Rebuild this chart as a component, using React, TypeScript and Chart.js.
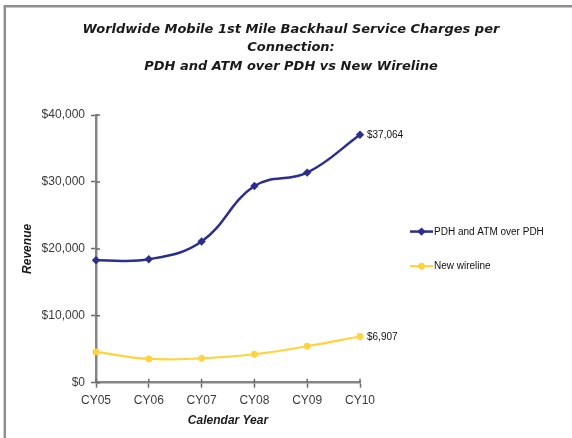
import React, { useEffect, useRef } from "react";
import { Chart, registerables } from "chart.js";

Chart.register(...registerables);

// Calendar years on the x axis
const years = ["CY05", "CY06", "CY07", "CY08", "CY09", "CY10"];

// Backhaul service charge per connection (USD)
const pdhAtmValues = [18300, 18450, 21100, 29400, 31400, 37064];
const newWirelineValues = [4600, 3550, 3650, 4250, 5450, 6907];

const seriesNames = ["PDH and ATM over PDH", "New wireline"];
const seriesColors = ["#2B2E8E", "#FFD340"];
const seriesMarkers = ["rectRot", "circle"];

const titleLines = [
  "Worldwide Mobile 1st Mile Backhaul Service Charges per",
  "Connection:",
  "PDH and ATM over PDH vs New Wireline",
];

const yTickValues = [0, 10000, 20000, 30000, 40000];

const money = (v: number) => "$" + Math.round(v).toLocaleString("en-US");

const AXIS_GRAY = "#858585";
const TICK_GRAY = "#6a6a6a";
const SANS = "'Liberation Sans', Arial, sans-serif";

// Gray frame running along the top and left edges of the picture
const framePlugin = {
  id: "frame",
  beforeDraw(chart: any) {
    const ctx = chart.ctx;
    ctx.save();
    ctx.strokeStyle = "#8e8e8e";
    ctx.lineWidth = 2.5;
    ctx.beginPath();
    ctx.moveTo(4.8, chart.height + 5);
    ctx.lineTo(4.8, 6.2);
    ctx.lineTo(chart.width + 5, 6.2);
    ctx.stroke();
    ctx.restore();
  },
};

// Tick marks that cross the axis lines (inner half)
const crossTicksPlugin = {
  id: "crossTicks",
  afterDatasetsDraw(chart: any) {
    const ctx = chart.ctx;
    const xs = chart.scales.x;
    const ys = chart.scales.y;
    const inner = 4;
    ctx.save();
    ctx.strokeStyle = TICK_GRAY;
    ctx.lineWidth = 1.5;
    ctx.beginPath();
    ys.ticks.forEach((_t: any, i: number) => {
      const py = ys.getPixelForTick(i);
      ctx.moveTo(ys.right, py);
      ctx.lineTo(ys.right + inner, py);
    });
    xs.ticks.forEach((_t: any, i: number) => {
      const px = xs.getPixelForTick(i);
      ctx.moveTo(px, xs.top);
      ctx.lineTo(px, xs.top - inner);
    });
    ctx.stroke();
    ctx.restore();
  },
};

// Value label next to the last point of each series
const endLabelPlugin = {
  id: "endLabels",
  afterDatasetsDraw(chart: any) {
    const ctx = chart.ctx;
    ctx.save();
    ctx.font = `10px ${SANS}`;
    ctx.fillStyle = "#111";
    ctx.textAlign = "left";
    ctx.textBaseline = "middle";
    chart.data.datasets.forEach((ds: any, i: number) => {
      const meta = chart.getDatasetMeta(i);
      const last = meta.data[meta.data.length - 1];
      const value = ds.data[ds.data.length - 1];
      ctx.fillText(money(value), last.x + 7, last.y + 0.5);
    });
    ctx.restore();
  },
};

// Legend to the right of the plot: line with marker, then series name
const sideLegendPlugin = {
  id: "sideLegend",
  afterDraw(chart: any) {
    const ctx = chart.ctx;
    const area = chart.chartArea;
    const x0 = area.right + 50;
    const lineLen = 23;
    const gap = 34.6;
    const midY = (area.top + area.bottom) / 2;
    const datasets = chart.data.datasets;
    const startY = midY - (gap * (datasets.length - 1)) / 2;
    ctx.save();
    datasets.forEach((ds: any, i: number) => {
      const y = startY + i * gap;
      ctx.strokeStyle = ds.borderColor;
      ctx.lineWidth = ds.borderWidth;
      ctx.beginPath();
      ctx.moveTo(x0, y);
      ctx.lineTo(x0 + lineLen, y);
      ctx.stroke();
      ctx.fillStyle = ds.pointBackgroundColor;
      ctx.beginPath();
      const cx = x0 + lineLen / 2;
      const r = ds.pointRadius;
      if (ds.pointStyle === "rectRot") {
        ctx.moveTo(cx, y - r);
        ctx.lineTo(cx + r, y);
        ctx.lineTo(cx, y + r);
        ctx.lineTo(cx - r, y);
        ctx.closePath();
      } else {
        ctx.arc(cx, y, r, 0, Math.PI * 2);
      }
      ctx.fill();
      ctx.font = `10px ${SANS}`;
      ctx.fillStyle = "#111";
      ctx.textAlign = "left";
      ctx.textBaseline = "middle";
      ctx.fillText(ds.label, x0 + lineLen + 1, y + 0.5);
    });
    ctx.restore();
  },
};

export default function App() {
  const canvasRef = useRef<HTMLCanvasElement | null>(null);

  useEffect(() => {
    const canvas = canvasRef.current;
    if (!canvas) return;
    const valueSets = [pdhAtmValues, newWirelineValues];
    const chart = new Chart(canvas, {
      type: "line",
      data: {
        labels: years,
        datasets: valueSets.map((vals, i) => ({
          label: seriesNames[i],
          data: vals,
          borderColor: seriesColors[i],
          backgroundColor: seriesColors[i],
          pointBackgroundColor: seriesColors[i],
          pointBorderColor: seriesColors[i],
          borderWidth: i === 0 ? 2.5 : 2.2,
          pointStyle: seriesMarkers[i],
          pointRadius: i === 0 ? 4.2 : 3.4,
          pointBorderWidth: 0,
          tension: 0.4,
          fill: false,
        })),
      },
      options: {
        responsive: false,
        animation: false,
        devicePixelRatio: 1,
        layout: { padding: { left: 10, right: 0, top: 0, bottom: 5 } },
        plugins: {
          legend: { display: false },
          tooltip: { enabled: false },
          title: {
            display: true,
            text: titleLines,
            color: "#1a1a1a",
            font: { family: "'DejaVu Sans', sans-serif", size: 13, weight: "bold", style: "italic", lineHeight: 1.44 },
            padding: { top: 20, bottom: 38.9 },
          },
        },
        scales: {
          x: {
            type: "category",
            offset: false,
            grid: {
              display: true,
              drawOnChartArea: false,
              drawTicks: true,
              tickLength: 5,
              tickWidth: 1.5,
              color: TICK_GRAY,
              offset: false,
            },
            border: { display: true, color: AXIS_GRAY, width: 2.5 },
            ticks: {
              color: "#3a3a3a",
              font: { family: SANS, size: 12, lineHeight: 1.2 },
              padding: 5.8,
              maxRotation: 0,
              autoSkip: false,
            },
            title: {
              display: true,
              text: "Calendar Year",
              color: "#1a1a1a",
              font: { family: SANS, size: 12, weight: "bold", style: "italic", lineHeight: 1.2 },
              padding: { top: 0, bottom: 4.8 },
            },
            afterFit(scale: any) {
              scale.height = 50.3;
            },
          },
          y: {
            type: "linear",
            position: "left",
            min: 0,
            max: 40000,
            afterBuildTicks(scale: any) {
              scale.ticks = yTickValues.map((v) => ({ value: v }));
            },
            grid: {
              display: true,
              drawOnChartArea: false,
              drawTicks: true,
              tickLength: 5,
              tickWidth: 1.5,
              color: TICK_GRAY,
            },
            border: { display: true, color: AXIS_GRAY, width: 2.5 },
            ticks: {
              color: "#3a3a3a",
              font: { family: SANS, size: 12, lineHeight: 1.2 },
              padding: 6,
              callback: (v: any) => money(Number(v)),
            },
            title: {
              display: true,
              text: "Revenue",
              color: "#1a1a1a",
              font: { family: SANS, size: 12, weight: "bold", style: "italic", lineHeight: 1.2 },
              padding: { top: 10.8, bottom: 0 },
            },
            afterFit(scale: any) {
              scale.width = 86;
            },
          },
          // empty band on the right that holds the end labels and the legend
          side: {
            type: "linear",
            position: "right",
            display: true,
            grid: { display: false },
            border: { display: false },
            ticks: { display: false },
            afterFit(scale: any) {
              scale.width = 212;
            },
          },
        },
      } as any,
      plugins: [framePlugin, crossTicksPlugin, endLabelPlugin, sideLegendPlugin],
    });
    return () => chart.destroy();
  }, []);

  return (
    <div style={{ position: "fixed", left: 0, top: 0, width: 572, height: 438, background: "#fff" }}>
      <canvas ref={canvasRef} width={572} height={438} style={{ display: "block", width: 572, height: 438 }} />
    </div>
  );
}
